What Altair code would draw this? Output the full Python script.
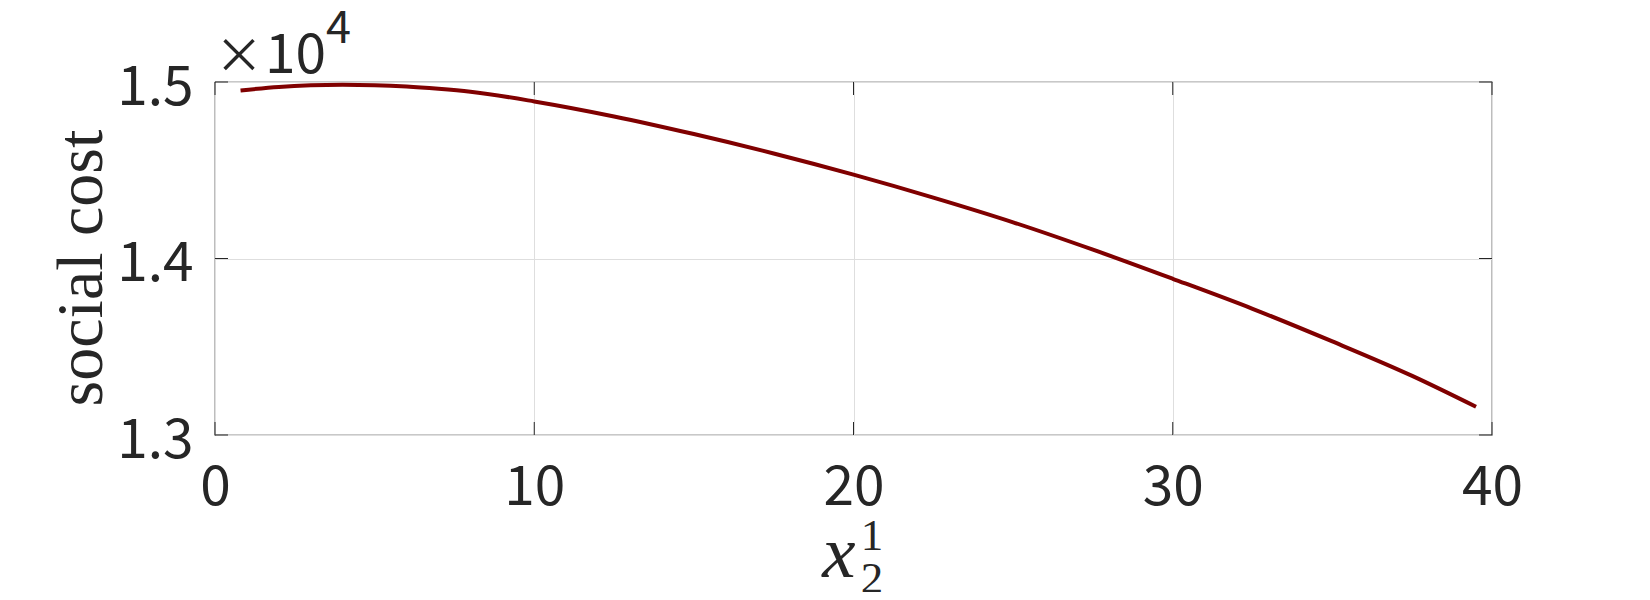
import altair as alt
import pandas as pd

# ---- data ----
x_vals = [0.8, 2, 3, 4, 5, 6, 7, 8, 10, 12.5, 15, 17.5, 20, 22.5, 25, 27.5, 30, 32.5, 35, 37.5, 39.5]
cost = [14952, 14972, 14981, 14984, 14982, 14975, 14962, 14945, 14890, 14805, 14705, 14595,
        14475, 14345, 14205, 14050, 13885, 13715, 13530, 13335, 13160]
x_ticks = [0, 10, 20, 30, 40]
y_ticks = [13000, 14000, 15000]
y_title = "social cost"
exp_base = "10"
exp_times = "×"
exp_power = "4"
x_title_main = "x"
x_title_sup = "1"
x_title_sub = "2"

W, H = 1277, 353
INK = "#262626"
TICK = 13
SERIF_A = "serif"
SERIF_B = "'Liberation Serif'"
SANS = "Noto Sans CJK JP"

df = pd.DataFrame({"x": x_vals, "cost": cost})
xs = alt.Scale(domain=[0, 40], nice=False, zero=False)
ys = alt.Scale(domain=[13000, 15000], nice=False, zero=False)

x_axis = alt.Axis(
    values=x_ticks, title=None, grid=True, gridColor="#dedede", gridWidth=1,
    ticks=False, tickSize=0, domain=False, labelPadding=26,
    labelFont=SANS, labelFontSize=55, labelColor=INK, labelFlush=False)
y_axis = alt.Axis(
    values=y_ticks, title=None, grid=True, gridColor="#dedede", gridWidth=1,
    ticks=False, tickSize=0, domain=False, labelPadding=22,
    labelExpr="format(datum.value / 10000, '.1f')",
    labelBaseline="alphabetic", labelOffset=22,
    labelFont=SANS, labelFontSize=55, labelColor=INK, labelFlush=False)

line = alt.Chart(df).mark_line(color="#800000", strokeWidth=4, interpolate="monotone").encode(
    x=alt.X("x:Q", scale=xs, axis=x_axis),
    y=alt.Y("cost:Q", scale=ys, axis=y_axis),
)

xt = pd.DataFrame({"t": x_ticks})
yt = pd.DataFrame({"t": y_ticks})
tick_b = alt.Chart(xt).mark_rule(color=INK, strokeWidth=1).encode(
    x=alt.X("t:Q", scale=xs, axis=x_axis), y=alt.value(H), y2=alt.value(H - TICK))
tick_t = alt.Chart(xt).mark_rule(color=INK, strokeWidth=1).encode(
    x=alt.X("t:Q", scale=xs, axis=x_axis), y=alt.value(0), y2=alt.value(TICK))
tick_l = alt.Chart(yt).mark_rule(color=INK, strokeWidth=1).encode(
    y=alt.Y("t:Q", scale=ys, axis=y_axis), x=alt.value(0), x2=alt.value(TICK))
tick_r = alt.Chart(yt).mark_rule(color=INK, strokeWidth=1).encode(
    y=alt.Y("t:Q", scale=ys, axis=y_axis), x=alt.value(W), x2=alt.value(W - TICK))


def txt(s, x, y, **kw):
    return alt.Chart(pd.DataFrame({"s": [s]})).mark_text(color=INK, **kw).encode(
        text="s:N", x=alt.value(x), y=alt.value(y))


ylab = txt(y_title, -133, 186, font=SERIF_A, fontSize=66, angle=270,
           align="center", baseline="middle")
times = txt(exp_times, 24, -24, font="Noto Sans", fontSize=72, fontWeight=300,
            align="center", baseline="middle")
ten = txt(exp_base, 50, -9, font=SANS, fontSize=55, align="left", baseline="alphabetic")
four = txt(exp_power, 111, -39, font=SANS, fontSize=45, align="left", baseline="alphabetic")
xmain = txt(x_title_main, 624, 495, font=SERIF_B, fontSize=75, fontStyle="italic",
            align="center", baseline="alphabetic")
xsup = txt(x_title_sup, 657, 468, font=SERIF_B, fontSize=45, align="center", baseline="alphabetic")
xsub = txt(x_title_sub, 657, 511, font=SERIF_B, fontSize=45, align="center", baseline="alphabetic")

chart = alt.layer(line, tick_b, tick_t, tick_l, tick_r, ylab, times, ten, four, xmain, xsup, xsub).properties(
    width=W, height=H,
    padding={"left": 207, "top": 74, "right": 140, "bottom": 157},
    autosize=alt.AutoSizeParams(type="none"),
    background="white",
).configure_view(stroke=INK, strokeWidth=1.2)

chart.save("out.html", embed_options={"renderer": "svg", "actions": False})
